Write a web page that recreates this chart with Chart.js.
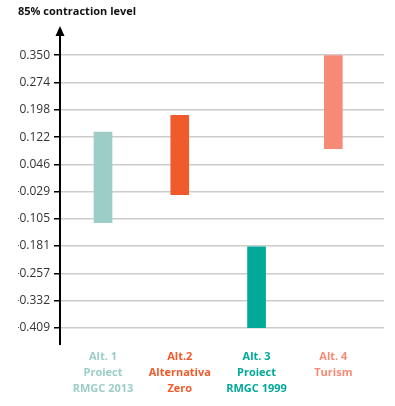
<!DOCTYPE html>
<html>
<head>
<meta charset="utf-8">
<script src="https://cdn.jsdelivr.net/npm/chart.js@4"></script>
<style>
  html, body { margin: 0; padding: 0; background: #fff; }
  #wrap { width: 395px; height: 406px; }
</style>
</head>
<body>
<div id="wrap"><canvas id="chart" width="395" height="406"></canvas></div>
<script>
const categories = [
    ['Alt. 1', 'Proiect', 'RMGC 2013'],
    ['Alt.2', 'Alternativa', 'Zero'],
    ['Alt. 3', 'Proiect', 'RMGC 1999'],
    ['Alt. 4', 'Turism']
];
const lowValues = [-0.116, -0.038, -0.409, 0.090];
const highValues = [0.136, 0.183, -0.183, 0.350];
const barColors = ['#9ccdc7', '#f15a2b', '#00a99a', '#f78a76'];
const yTickLabels = [0.350, 0.274, 0.198, 0.122, 0.046, -0.029, -0.105, -0.181, -0.257, -0.332, -0.409];
const chartTitle = '85% contraction level';

const fontFamily = "'Open Sans', sans-serif";

// y axis drawn by hand, with the arrow at the top
const axisArrow = {
    id: 'axisArrow',
    afterDraw(chart) {
        const ctx = chart.ctx;
        const x = chart.chartArea.left;
        ctx.save();
        ctx.strokeStyle = '#000';
        ctx.fillStyle = '#000';
        ctx.lineWidth = 2;
        ctx.beginPath();
        ctx.moveTo(x, chart.chartArea.bottom + 17);
        ctx.lineTo(x, 35);
        ctx.stroke();
        ctx.beginPath();
        ctx.moveTo(x, 26);
        ctx.lineTo(x - 4.5, 36);
        ctx.lineTo(x + 4.5, 36);
        ctx.closePath();
        ctx.fill();
        ctx.restore();
    }
};

const data = {
    datasets: [{
        data: categories.map((c, i) => ({ x: i + 1, y: [lowValues[i], highValues[i]] })),
        backgroundColor: barColors,
        borderWidth: 0,
        barThickness: 18
    }]
};

const config = {
    type: 'bar',
    data: data,
    options: {
        responsive: false,
        animation: false,
        layout: { padding: { left: 18, right: 11, top: 0, bottom: 0 } },
        plugins: {
            legend: { display: false },
            tooltip: { enabled: false },
            title: {
                display: true,
                text: chartTitle,
                align: 'start',
                color: '#111',
                font: { family: fontFamily, size: 11, weight: 'bold' },
                padding: { top: 5, bottom: 37 }
            }
        },
        scales: {
            x: {
                type: 'linear',
                offset: false,
                min: 0.44,
                max: 4.66,
                afterBuildTicks: (scale) => {
                    scale.ticks = categories.map((c, i) => ({ value: i + 1 }));
                },
                afterFit: (scale) => { scale.height = 78; },
                grid: { display: false, drawTicks: false },
                border: { display: false },
                ticks: {
                    autoSkip: false,
                    maxRotation: 0,
                    padding: 21,
                    callback: (value, index) => categories[index],
                    color: (ctx) => barColors[ctx.index],
                    font: { family: fontFamily, size: 11, weight: 'bold', lineHeight: 1.45 }
                }
            },
            y: {
                min: -0.409,
                max: 0.350,
                afterBuildTicks: (scale) => {
                    scale.ticks = yTickLabels.map(v => ({ value: v }));
                },
                afterFit: (scale) => { scale.width = 42; },
                grid: {
                    color: '#cccccc',
                    lineWidth: 1.5,
                    tickColor: '#000',
                    tickLength: 6,
                    tickWidth: 1.5
                },
                border: { display: false },
                ticks: {
                    padding: 4,
                    color: '#333',
                    font: { family: fontFamily, size: 12 },
                    callback: (value) => value.toFixed(3)
                }
            }
        }
    },
    plugins: [axisArrow]
};

new Chart(document.getElementById('chart'), config);
</script>
</body>
</html>
